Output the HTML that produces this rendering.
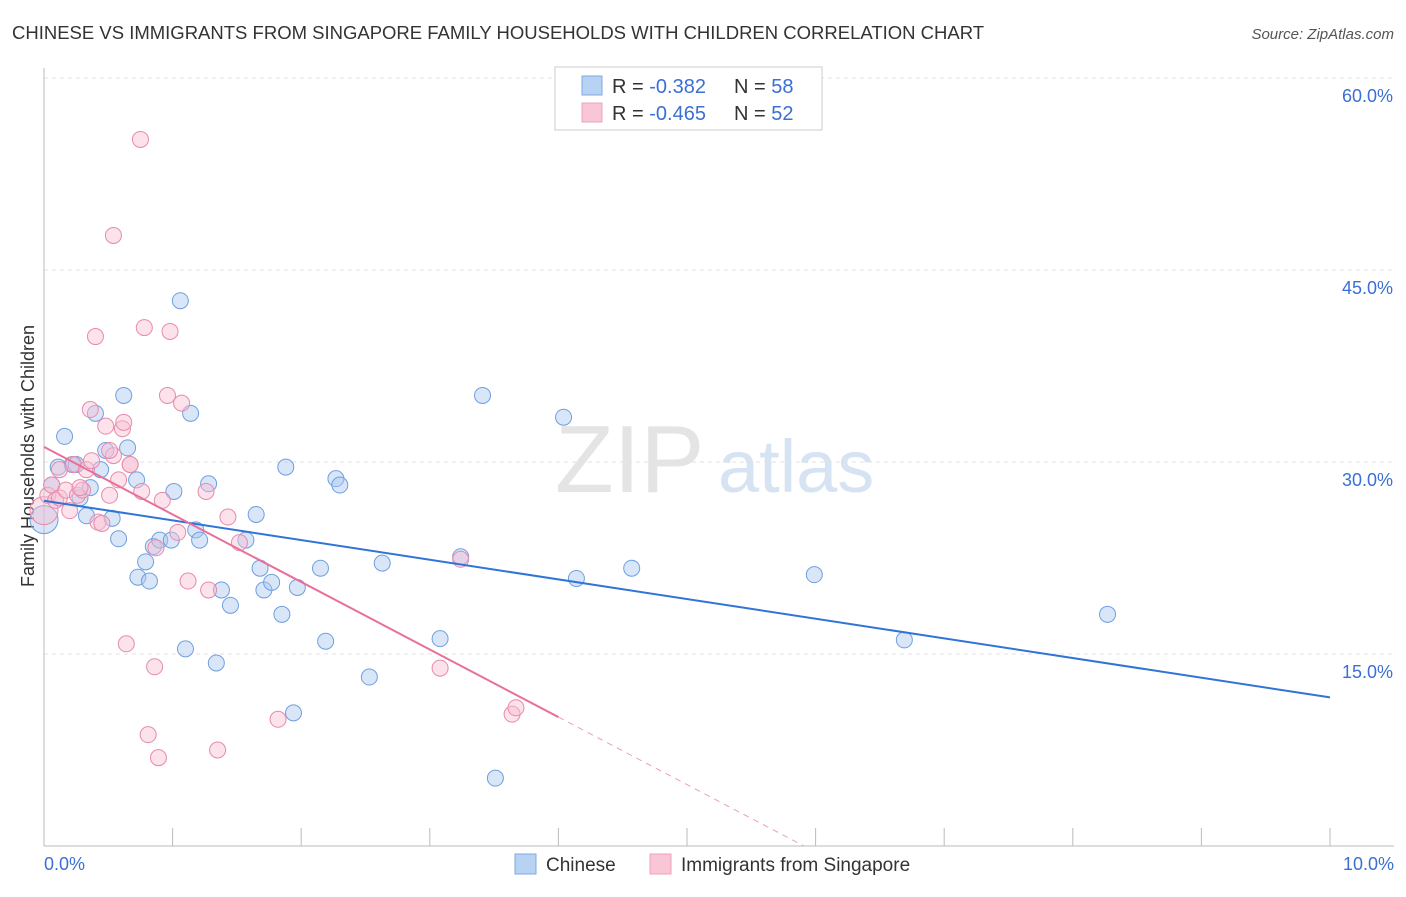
<!DOCTYPE html>
<html><head><meta charset="utf-8">
<style>
body{margin:0;background:#fff;font-family:"Liberation Sans",sans-serif;}
svg text{font-family:"Liberation Sans",sans-serif;}
</style></head>
<body>
<svg id="chart" width="1406" height="892">
<text x="12" y="39" font-size="18.5" fill="#333">CHINESE VS IMMIGRANTS FROM SINGAPORE FAMILY HOUSEHOLDS WITH CHILDREN CORRELATION CHART</text>
<text x="1394" y="39" font-size="15" fill="#555" text-anchor="end" font-style="italic">Source: ZipAtlas.com</text>
<text x="555" y="492" font-size="96" fill="#e4e4e4" font-family="Liberation Serif">ZIP</text>
<text x="718" y="492" font-size="74" fill="#d6e3f3">atlas</text>
<text transform="translate(34,456) rotate(-90)" font-size="18" fill="#333" text-anchor="middle">Family Households with Children</text>
<g id="grid"></g><g id="axes"></g><g id="pts"></g><g id="lines"></g>
<g>
<rect x="555" y="67" width="267" height="63" fill="#fff" stroke="#ccc"/>
<rect x="582" y="76" width="20" height="19" fill="#b8d2f3" stroke="#7ea8e0"/>
<rect x="582" y="103" width="20" height="19" fill="#f9c6d6" stroke="#eea0bb"/>
<text x="612" y="93" font-size="20" fill="#333">R = <tspan fill="#3b6fd4">-0.382</tspan><tspan x="734">N = </tspan><tspan fill="#3b6fd4">58</tspan></text>
<text x="612" y="120" font-size="20" fill="#333">R = <tspan fill="#3b6fd4">-0.465</tspan><tspan x="734">N = </tspan><tspan fill="#3b6fd4">52</tspan></text>
</g>
<g>
<rect x="515" y="854" width="21" height="20" fill="#b8d2f3" stroke="#7ea8e0"/>
<text x="546" y="871" font-size="19" fill="#333">Chinese</text>
<rect x="650" y="854" width="21" height="20" fill="#f9c6d6" stroke="#eea0bb"/>
<text x="681" y="871" font-size="19" fill="#333">Immigrants from Singapore</text>
</g>
</svg>
<script>
const xTicks=[0,1,2,3,4,5,6,7,8,9,10];
const yTicks=[15,30,45,60];
const chineseX=[0.0,0.06,0.11,0.16,0.22,0.25,0.28,0.33,0.36,0.4,0.44,0.48,0.58,0.53,0.62,0.65,0.72,0.73,0.79,0.82,0.85,0.9,0.99,1.01,1.06,1.1,1.14,1.18,1.21,1.28,1.34,1.38,1.45,1.57,1.65,1.68,1.71,1.77,1.85,1.88,1.94,1.97,2.15,2.19,2.27,2.3,2.53,2.63,3.08,3.24,3.41,3.51,4.04,4.14,4.57,5.99,6.69,8.27];
const chineseY=[25.5,28.2,29.6,32.0,29.8,29.8,27.2,25.8,28.0,33.8,29.4,30.9,24.0,25.6,35.2,31.1,28.6,21.0,22.2,20.7,23.4,23.9,23.9,27.7,42.6,15.4,33.8,24.7,23.9,28.3,14.3,20.0,18.8,23.9,25.9,21.7,20.0,20.6,18.1,29.6,10.4,20.2,21.7,16.0,28.7,28.2,13.2,22.1,16.2,22.6,35.2,5.3,33.5,20.9,21.7,21.2,16.1,18.1];
const singaporeX=[0.0,0.03,0.06,0.09,0.12,0.17,0.2,0.23,0.26,0.3,0.33,0.36,0.37,0.4,0.42,0.45,0.48,0.51,0.54,0.54,0.58,0.61,0.62,0.67,0.75,0.76,0.78,0.86,0.81,0.87,0.89,0.92,0.96,0.98,1.04,1.07,1.12,1.26,1.28,1.35,1.43,1.52,1.82,3.08,3.24,3.64,3.67,0.64,0.67,0.12,0.28,0.51];
const singaporeY=[26.2,27.4,28.2,27.0,27.2,27.8,26.2,29.8,27.4,27.8,29.4,34.1,30.1,39.8,25.3,25.2,32.8,27.4,30.5,47.7,28.6,32.6,33.1,29.8,55.2,27.7,40.5,14.0,8.7,23.3,6.9,27.0,35.2,40.2,24.5,34.6,20.7,27.7,20.0,7.5,25.7,23.7,9.9,13.9,22.4,10.3,10.8,15.8,29.8,29.4,28.0,30.9];
const X=v=>44+v/10*1286, Y=v=>846-v/15*192;
const NS="http://www.w3.org/2000/svg";
function mk(tag,attrs,parent){const e=document.createElementNS(NS,tag);for(const k in attrs)e.setAttribute(k,attrs[k]);document.getElementById(parent).appendChild(e);return e;}
yTicks.forEach(t=>{
 const l=mk('line',{x1:44,x2:1394,y1:Y(t),y2:Y(t),stroke:'#e2e2e2','stroke-dasharray':'4,4'},'grid');
 
 
 const tx=mk('text',{x:1393,y:Y(t)+24,'font-size':18,fill:'#3b6fd4','text-anchor':'end'},'grid');
 tx.textContent=t.toFixed(1)+'%';
 
 
});
const ax=mk('line',{x1:44,x2:1394,y1:846,y2:846,stroke:'#bbb'},'axes');


const ay=mk('line',{x1:44,x2:44,y1:68,y2:846,stroke:'#bbb'},'axes');


xTicks.forEach(t=>{
 const l=mk('line',{x1:X(t),x2:X(t),y1:828,y2:846,stroke:'#bbb'},'axes');
 
 
});
[[0,'0.0%','start',44],[10,'10.0%','end',1394]].forEach(a=>{
 const tx=mk('text',{x:a[3],y:870,'font-size':18,fill:'#3b6fd4','text-anchor':a[2]},'axes');
 tx.textContent=a[1];
 
 
});
function dots(xs,ys,fill,stroke,name){
 xs.forEach((x,i)=>{
  const c=mk('circle',{cx:X(x),cy:Y(ys[i]),r:i===0?14:8,fill:fill,'fill-opacity':0.45,stroke:stroke,'stroke-width':1},'pts');
  
  
 });
}
dots(chineseX,chineseY,'#a9c8ef','#6f9fe0','chinese-point');
dots(singaporeX,singaporeY,'#f7bfd2','#e88aac','singapore-point');
function fit(xs,ys){const n=xs.length;let mx=0,my=0;xs.forEach((x,i)=>{mx+=x;my+=ys[i];});mx/=n;my/=n;let sxy=0,sxx=0;xs.forEach((x,i)=>{sxy+=(x-mx)*(ys[i]-my);sxx+=(x-mx)**2;});const b=sxy/sxx;return [my-b*mx,b];}
const [ab,bb]=fit(chineseX,chineseY);
const bl=mk('line',{x1:X(0),y1:Y(ab),x2:X(10),y2:Y(ab+bb*10),stroke:'#2f74d6','stroke-width':2},'lines');


const [ap,bp]=fit(singaporeX,singaporeY);
const pl=mk('line',{x1:X(0),y1:Y(ap),x2:X(4.0),y2:Y(ap+bp*4.0),stroke:'#e8709a','stroke-width':2},'lines');


const xe=Math.min(10,-ap/bp);
const pd=mk('line',{x1:X(4.0),y1:Y(ap+bp*4.0),x2:X(xe),y2:Y(ap+bp*xe),stroke:'#e8a0b8','stroke-width':1,'stroke-dasharray':'6,5'},'lines');


</script>
</body></html>
